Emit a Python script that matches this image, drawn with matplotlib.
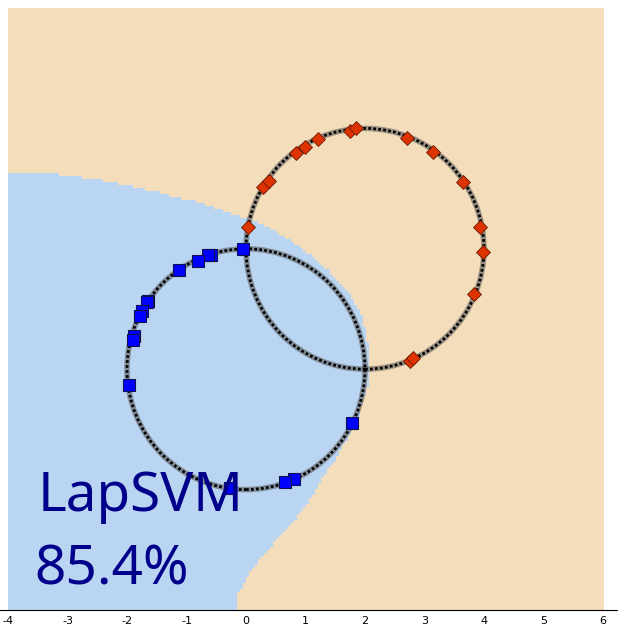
import numpy as np
import matplotlib
matplotlib.use("agg")
import matplotlib.pyplot as plt
from matplotlib.colors import ListedColormap
from matplotlib.patches import Circle
from matplotlib.path import Path

# two circles of unlabelled points: centre x, centre y, radius
circle_cx = [0.0, 2.0]
circle_cy = [0.0, 2.0]
circle_r = [2.0, 2.0]

# labelled points, class 1 (blue squares)
blue_x = [-0.05, -0.58, -0.63, -0.81, -1.12, -1.64, -1.66, -1.74, -1.78,
          -1.88, -1.90, -1.96, 1.79, 0.80, 0.65, -0.27]
blue_y = [1.99, 1.90, 1.89, 1.80, 1.64, 1.14, 1.11, 0.96, 0.89,
          0.55, 0.49, -0.26, -0.89, -1.83, -1.88, -1.98]

# labelled points, class 2 (red diamonds)
red_x = [0.04, 0.29, 0.38, 0.84, 0.99, 1.21, 1.75, 1.85, 2.71, 3.14,
         3.64, 3.93, 3.98, 3.84, 2.76, 2.81]
red_y = [2.36, 3.02, 3.13, 3.59, 3.69, 3.82, 3.95, 4.00, 3.84, 3.60,
         3.11, 2.36, 1.94, 1.25, 0.14, 0.18]

# LapSVM decision boundary (blue side is left / below)
bound_x = [-4.5, -3.55, -3.09, -2.71, -2.37, -2.12, -1.87, -1.61, -1.41, -1.23,
           -0.77, -0.27, 0.07, 0.29, 0.57, 0.96, 1.36, 1.70, 1.95, 2.03,
           2.07, 2.03, 1.88, 1.71, 1.53, 1.29, 1.13, 0.82, 0.57, 0.37,
           0.24, 0.10, -0.02, -0.15, -0.18, -0.19]
bound_y = [3.28, 3.28, 3.23, 3.18, 3.13, 3.08, 3.03, 2.96, 2.93, 2.86,
           2.76, 2.59, 2.48, 2.40, 2.23, 1.98, 1.65, 1.28, 0.87, 0.44,
           -0.01, -0.30, -0.79, -1.13, -1.47, -1.79, -2.12, -2.50, -2.79, -3.00,
           -3.17, -3.34, -3.55, -3.78, -4.0, -4.5]

xticks = [-4, -3, -2, -1, 0, 1, 2, 3, 4, 5, 6]
method = "LapSVM"
accuracy = "85.4%"

fig = plt.figure(figsize=(6.18, 6.39), dpi=100)
ax = fig.add_axes([0.0, 0.0454, 1.0, 0.9421])

# rasterised decision regions
poly = Path(list(zip(bound_x, bound_y)) + [(-4.5, -4.5)])
gx, gy = np.meshgrid(np.linspace(-4, 6, 200), np.linspace(-4, 6, 200))
inside = poly.contains_points(np.c_[gx.ravel(), gy.ravel()]).reshape(gx.shape)
ax.imshow(inside.astype(float), origin="lower", extent=[-4, 6, -4, 6],
          cmap=ListedColormap(["#F3DDBB", "#BAD5F2"]), interpolation="nearest",
          aspect="auto", zorder=0)

# unlabelled data drawn as fuzzy rings
for cx, cy, r in zip(circle_cx, circle_cy, circle_r):
    ax.add_patch(Circle((cx, cy), r, fill=False, edgecolor="#555555",
                        lw=4.0, alpha=0.55, zorder=2))
    ax.add_patch(Circle((cx, cy), r, fill=False, edgecolor="black",
                        lw=2.0, linestyle=(0, (1, 0.8)), zorder=3))

ax.plot(blue_x, blue_y, "s", ms=8, mfc="#0000FF", mec="#101050", mew=0.8, zorder=4)
ax.plot(red_x, red_y, "D", ms=7.5, mfc="#DD3300", mec="#6A1A00", mew=0.6, zorder=4)

txt = dict(color="#00008B", fontsize=39.5, family=["Noto Sans", "DejaVu Sans"],
           va="baseline", ha="left", zorder=5)
ax.text(-3.51, -2.36, method, **txt)
ax.text(-3.56, -3.58, accuracy, **txt)

ax.set_xlim(-4.134, 6.252)
ax.set_ylim(-4, 6)
ax.set_xticks(xticks)
ax.set_xticklabels([str(t) for t in xticks])
ax.set_yticks([])
ax.tick_params(axis="x", length=0, pad=4, labelsize=8)
for s in ["top", "left", "right"]:
    ax.spines[s].set_visible(False)
ax.spines["bottom"].set_linewidth(0.8)

fig.savefig("out.png", dpi=100)
